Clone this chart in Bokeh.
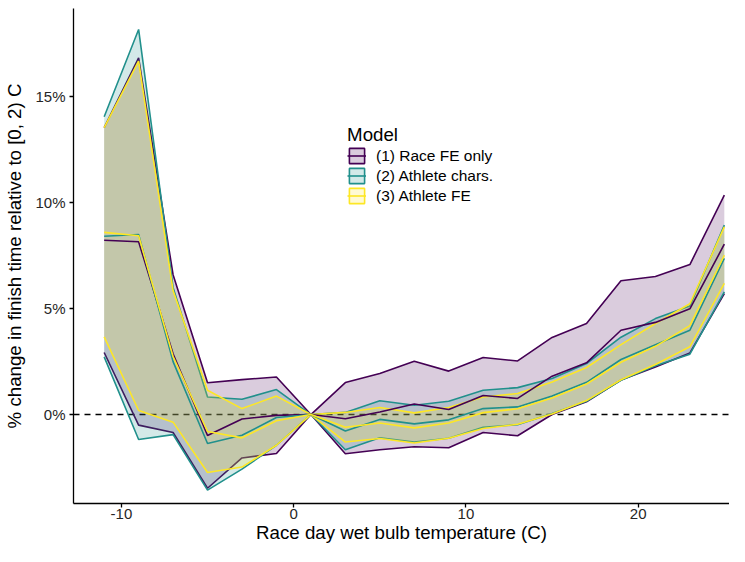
from bokeh.plotting import figure
from bokeh.models import Range1d, FixedTicker, Legend, LegendItem, Label, Span
from bokeh.embed import file_html
from bokeh.resources import INLINE

# ---- data ----
temps = [-11, -9, -7, -5, -3, -1, 1, 3, 5, 7, 9, 11, 13, 15, 17, 19, 21, 23, 25]

models = ["(1) Race FE only", "(2) Athlete chars.", "(3) Athlete FE"]
colors = ["#440154", "#21908C", "#FDE725"]

race_fe_hi = [13.55, 16.84, 6.60, 1.50, 1.65, 1.77, 0.0, 1.51, 1.94, 2.52, 2.05, 2.69, 2.53, 3.64, 4.30, 6.32, 6.52, 7.08, 10.36]
race_fe_est = [8.23, 8.16, 2.87, -0.99, -0.21, -0.04, 0.0, -0.20, 0.12, 0.50, 0.24, 0.90, 0.76, 1.81, 2.44, 3.98, 4.35, 4.99, 8.04]
race_fe_lo = [2.93, -0.50, -0.85, -3.48, -2.05, -1.84, 0.0, -1.85, -1.66, -1.52, -1.57, -0.85, -1.00, 0.00, 0.60, 1.63, 2.24, 2.91, 5.71]

ath_chars_hi = [14.06, 18.18, 6.00, 0.83, 0.72, 1.18, 0.0, 0.10, 0.65, 0.44, 0.63, 1.15, 1.27, 1.70, 2.41, 3.65, 4.53, 5.12, 8.94]
ath_chars_est = [8.42, 8.50, 2.50, -1.37, -0.98, -0.14, 0.0, -0.78, -0.23, -0.44, -0.25, 0.28, 0.36, 0.88, 1.52, 2.60, 3.30, 3.98, 7.37]
ath_chars_lo = [2.72, -1.18, -0.95, -3.57, -2.58, -1.45, 0.0, -1.66, -1.10, -1.30, -1.12, -0.60, -0.48, 0.05, 0.63, 1.62, 2.30, 2.85, 5.79]

ath_fe_hi = [13.55, 16.68, 5.85, 1.15, 0.28, 0.87, 0.0, 0.10, 0.33, 0.08, 0.33, 0.83, 0.99, 1.54, 2.22, 3.30, 4.30, 5.23, 8.86]
ath_fe_est = [8.60, 8.44, 2.74, -0.80, -1.10, -0.29, 0.0, -0.60, -0.40, -0.63, -0.40, 0.09, 0.27, 0.78, 1.44, 2.47, 3.22, 4.20, 7.52]
ath_fe_lo = [3.67, 0.19, -0.36, -2.74, -2.48, -1.45, 0.0, -1.30, -1.13, -1.34, -1.12, -0.66, -0.46, 0.03, 0.66, 1.64, 2.36, 3.20, 6.19]

series = [
    (race_fe_lo, race_fe_est, race_fe_hi),
    (ath_chars_lo, ath_chars_est, ath_chars_hi),
    (ath_fe_lo, ath_fe_est, ath_fe_hi),
]

x_tick_values = [-10, 0, 10, 20]
x_tick_labels = ["-10", "0", "10", "20"]
y_tick_values = [0, 5, 10, 15]
y_tick_labels = ["0%", "5%", "10%", "15%"]

FONT = "Liberation Sans"
LW = 1.6
NAN = float("nan")

p = figure(width=729, height=546, output_backend="svg", toolbar_location=None,
           x_range=Range1d(-12.78, 25.3), y_range=Range1d(-4.2, 19.17),
           min_border_left=73, min_border_right=0, min_border_top=8, min_border_bottom=43)
p.grid.visible = False
p.outline_line_color = None
p.background_fill_color = "white"

# reference line under everything
p.add_layout(Span(location=0, dimension="width", line_color="black", line_width=1.6,
                  line_dash="6 5", level="underlay"))

mid_renderers = []
for (lo, est, hi), c in zip(series, colors):
    p.varea(x=temps, y1=lo, y2=hi, fill_color=c, fill_alpha=0.2)
    p.line(temps, hi, line_color=c, line_width=LW)
    p.line(temps, lo, line_color=c, line_width=LW)

for (lo, est, hi), c in zip(series, colors):
    mid_renderers.append(p.line(temps, est, line_color=c, line_width=LW))

# legend keys (filled box with outline + centre line, like the ribbon key)
items = []
for m, c, mr in zip(models, colors, mid_renderers):
    key = p.quad(left=[NAN], right=[NAN], top=[NAN], bottom=[NAN], fill_color=c, fill_alpha=0.2,
                 line_color=c, line_width=LW)
    items.append(LegendItem(label=m, renderers=[key, mr]))

legend = Legend(items=items, location=(274, 298), orientation="vertical",
                glyph_width=19, glyph_height=19, label_height=19, spacing=1,
                padding=0, margin=0, label_standoff=10,
                label_text_font=FONT, label_text_font_size="15.5px", label_text_color="black",
                background_fill_alpha=0, border_line_alpha=0)
p.add_layout(legend)

p.add_layout(Label(x=3.1, y=13.22, text="Model", text_font=FONT, text_font_size="18.7px",
                   text_baseline="alphabetic", text_align="left", text_color="black"))

# axes
for ax in (p.xaxis[0], p.yaxis[0]):
    ax.axis_line_color = "black"
    ax.axis_line_width = 1.3
    ax.major_tick_line_color = "black"
    ax.major_tick_line_width = 1.3
    ax.major_tick_in = 0
    ax.major_tick_out = 4
    ax.minor_tick_line_color = None
    ax.major_label_text_font = FONT
    ax.major_label_text_font_size = "15px"
    ax.major_label_text_color = "#262626"
    ax.axis_label_text_font = FONT
    ax.axis_label_text_font_size = "18.7px"
    ax.axis_label_text_font_style = "normal"
    ax.axis_label_text_color = "black"

p.xaxis.ticker = FixedTicker(ticks=x_tick_values)
p.xaxis.major_label_overrides = dict(zip(x_tick_values, x_tick_labels))
p.yaxis.ticker = FixedTicker(ticks=y_tick_values)
p.yaxis.major_label_overrides = dict(zip(y_tick_values, y_tick_labels))
p.xaxis.major_label_standoff = 1
p.yaxis.major_label_standoff = 4
p.xaxis.axis_label_standoff = 0
p.yaxis.axis_label_standoff = 7
p.xaxis.axis_label = "Race day wet bulb temperature (C)"
p.yaxis.axis_label = "% change in finish time relative to [0, 2) C"

open("out.html", "w").write(file_html(p, INLINE))
